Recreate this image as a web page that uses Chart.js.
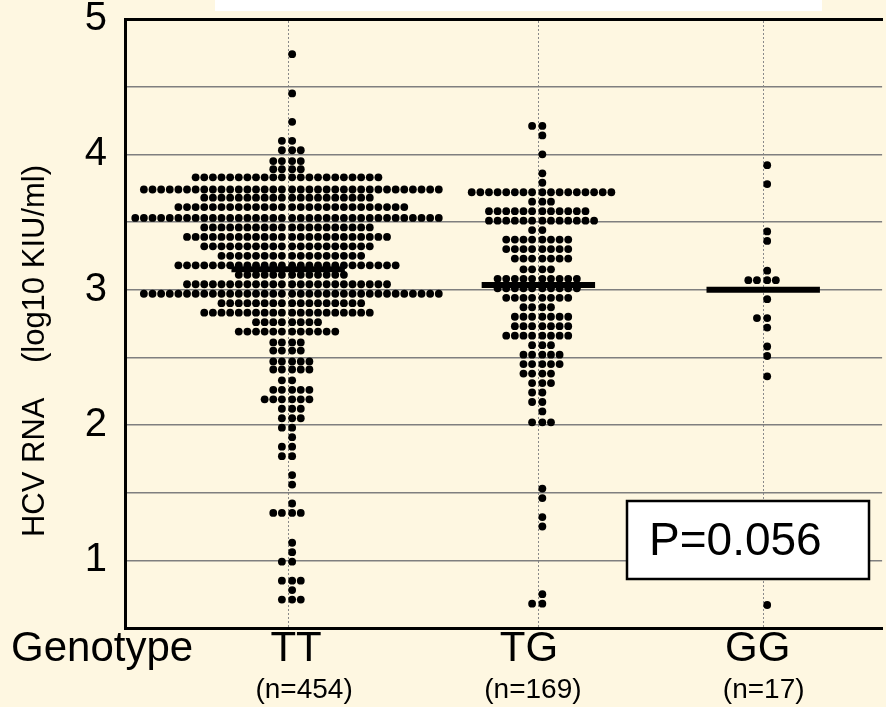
<!DOCTYPE html>
<html>
<head>
<meta charset="utf-8">
<script src="https://cdn.jsdelivr.net/npm/chart.js@4.4.0/dist/chart.umd.min.js"></script>
<style>
  html, body { margin: 0; padding: 0; background: #fef7e1; }
  #chart { display: block; }
</style>
</head>
<body>
<canvas id="chart" width="886" height="707"></canvas>
<script>
// ---- data (log10 KIU/ml) ----
const categories = ['TT', 'TG', 'GG'];
const nLabels = ['(n=454)', '(n=169)', '(n=17)'];
const medians = [3.15, 3.035, 3.0];
const pValue = 'P=0.056';

// each level = one row of the dot plot, count = dots in that row
const ttLevels = [4.74, 4.45, 4.24, 4.10, 4.03, 3.95, 3.89, 3.83, 3.74, 3.68, 3.61, 3.53, 3.46, 3.39, 3.32, 3.25,
  3.18, 3.11, 3.04, 2.97, 2.90, 2.83, 2.76, 2.69, 2.61, 2.55, 2.47, 2.41, 2.33, 2.26, 2.19, 2.12, 2.05, 1.98,
  1.91, 1.84, 1.77, 1.63, 1.56, 1.42, 1.35, 1.13, 1.06, 0.99, 0.85, 0.78, 0.71];
const ttCounts = [1, 1, 1, 2, 3, 4, 4, 22, 35, 20, 27, 36, 20, 24, 20, 17,
  26, 13, 24, 35, 17, 20, 8, 12, 4, 4, 5, 5, 2, 5, 6, 3, 3, 2,
  1, 2, 2, 1, 1, 1, 4, 1, 1, 2, 3, 1, 3];

const tgLevels = [4.21, 4.14, 4.00, 3.86, 3.79, 3.72, 3.65, 3.58, 3.51, 3.44, 3.37, 3.30, 3.23, 3.15, 3.08, 3.01,
  2.94, 2.87, 2.80, 2.73, 2.66, 2.59, 2.52, 2.45, 2.38, 2.31, 2.24, 2.17, 2.10, 2.02, 1.53, 1.46, 1.32, 1.25,
  0.75, 0.68];
const tgCounts = [2, 1, 1, 1, 1, 17, 3, 12, 13, 2, 8, 8, 7, 4, 10, 10,
  8, 4, 7, 7, 8, 3, 5, 5, 4, 3, 2, 2, 1, 3, 1, 1, 1, 1,
  1, 2];

const ggLevels = [3.92, 3.78, 3.43, 3.36, 3.14, 3.07, 2.93, 2.79, 2.72, 2.58, 2.51, 2.36, 0.67];
const ggCounts = [1, 1, 1, 1, 1, 4, 1, 2, 1, 1, 1, 1, 1];

// ---- layout (x axis is in pixels from the plot's left edge) ----
const X_MAX = 761;
const catX = [164, 415.5, 641.5];
const labelX = [172, 406, 636];
const nLabelX = [180, 410, 642];
const genotypeX = -23;
const DOT_STEP = 8.67;
const MEDIAN_HALF = 57;
const FONT = "'Liberation Sans', Arial, sans-serif";

function swarm(levels, counts, cx) {
  const pts = [];
  levels.forEach((y, i) => {
    const n = counts[i];
    const left = Math.floor(n / 2);
    const right = n - left;
    for (let k = 0; k < right; k++) pts.push({ x: cx + 4 + k * DOT_STEP, y: y });
    for (let k = 0; k < left; k++) pts.push({ x: cx - 6.3 - k * DOT_STEP, y: y });
  });
  return pts;
}

const groups = [[ttLevels, ttCounts], [tgLevels, tgCounts], [ggLevels, ggCounts]];

const datasets = [];
groups.forEach(([lv, ct], i) => {
  datasets.push({
    label: categories[i] + ' median',
    type: 'line',
    data: [{ x: catX[i] - MEDIAN_HALF, y: medians[i] }, { x: catX[i] + MEDIAN_HALF, y: medians[i] }],
    borderColor: '#000',
    borderWidth: 6,
    borderCapStyle: 'butt',
    pointRadius: 0,
    order: 0
  });
  datasets.push({
    label: categories[i],
    data: swarm(lv, ct, catX[i]),
    backgroundColor: '#000',
    borderWidth: 0,
    pointRadius: 3.9,
    pointHoverRadius: 3.9,
    order: 1
  });
});

const extras = {
  id: 'extras',
  afterDraw(chart) {
    const ctx = chart.ctx;
    ctx.save();
    // white strip at the top (cut-off title box)
    ctx.fillStyle = '#fff';
    ctx.fillRect(215, 0, 607, 11);

    // y axis title
    ctx.save();
    ctx.translate(35, 351);
    ctx.rotate(-Math.PI / 2);
    ctx.fillStyle = '#000';
    ctx.font = '31px ' + FONT;
    ctx.textAlign = 'center';
    ctx.textBaseline = 'middle';
    ctx.fillText('HCV RNA    (log10 KIU/ml)', 0, 0);
    ctx.restore();

    // p value box
    ctx.fillStyle = '#fff';
    ctx.fillRect(627, 501, 242, 78);
    ctx.lineWidth = 2.5;
    ctx.strokeStyle = '#000';
    ctx.strokeRect(627, 501, 242, 78);
    ctx.fillStyle = '#000';
    ctx.font = '46px ' + FONT;
    ctx.textAlign = 'left';
    ctx.textBaseline = 'middle';
    ctx.fillText(pValue, 649, 542);
    ctx.restore();
  }
};

new Chart(document.getElementById('chart'), {
  type: 'scatter',
  data: { datasets: datasets },
  options: {
    responsive: false,
    animation: false,
    layout: { padding: { top: 19, left: 0, right: 0, bottom: 0 } },
    plugins: { legend: { display: false }, tooltip: { enabled: false } },
    scales: {
      x: {
        type: 'linear', position: 'bottom', weight: 1,
        min: 0, max: X_MAX,
        afterBuildTicks: s => { s.ticks = [genotypeX].concat(labelX).map(v => ({ value: v })); },
        afterFit: s => { s.height = 44; s.paddingLeft = 0; s.paddingRight = 0; },
        grid: { display: false, drawTicks: false },
        border: { display: true, color: '#000', width: 3 },
        ticks: {
          autoSkip: false, maxRotation: 0, padding: 0, color: '#000',
          font: { family: FONT, size: 42, lineHeight: 1 },
          callback: (v, i) => ['Genotype'].concat(categories)[i]
        }
      },
      xn: {
        type: 'linear', position: 'bottom', weight: 2,
        min: 0, max: X_MAX,
        afterBuildTicks: s => { s.ticks = nLabelX.map(v => ({ value: v })); },
        afterFit: s => { s.height = 35; s.paddingLeft = 0; s.paddingRight = 0; },
        grid: { display: false, drawTicks: false },
        border: { display: false },
        ticks: {
          autoSkip: false, maxRotation: 0, padding: 4, color: '#000',
          font: { family: FONT, size: 28, lineHeight: 1 },
          callback: (v, i) => nLabels[i]
        }
      },
      xTop: {
        type: 'linear', position: 'top',
        min: 0, max: X_MAX,
        afterBuildTicks: s => { s.ticks = catX.map(v => ({ value: v })); },
        afterFit: s => { s.height = 0; s.paddingLeft = 0; s.paddingRight = 0; },
        grid: { display: true, drawTicks: false, color: '#8a8a8a', lineWidth: 1 },
        border: { display: true, color: '#000', width: 3, dash: [2, 2] },
        ticks: { display: false }
      },
      y: {
        min: 0.5, max: 5,
        afterFit: s => { s.width = 125; s.paddingTop = 0; s.paddingBottom = 0; },
        grid: { color: '#7f7f7f', lineWidth: 1.5, drawTicks: false },
        border: { display: true, color: '#000', width: 3 },
        ticks: {
          stepSize: 0.5, padding: 18, color: '#000',
          font: { family: FONT, size: 40 },
          callback: v => Number.isInteger(v) ? String(v) : ''
        }
      }
    }
  },
  plugins: [extras]
});
</script>
</body>
</html>
